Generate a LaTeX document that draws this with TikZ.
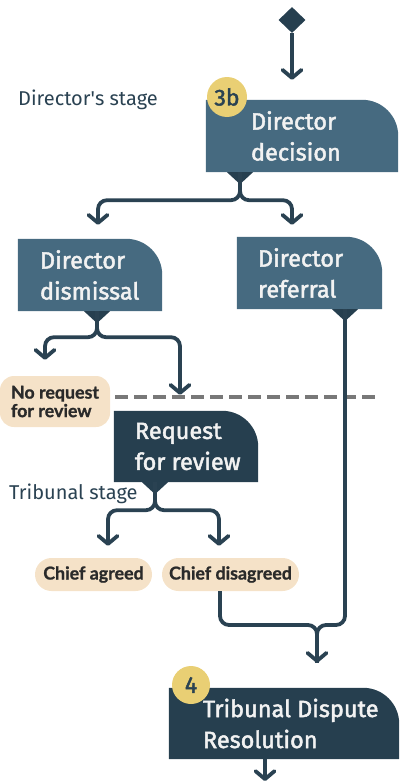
\documentclass[tikz,border=0pt]{standalone}
\usepackage{fontspec}
\setmainfont{Fira Sans}
\newfontfamily\boxfont[FakeBold=2]{Fira Sans}
\newfontfamily\pillfont[BoldFeatures={FakeBold=1}]{Lato}
\usetikzlibrary{arrows.meta,shapes.geometric}
\definecolor{boxmid}{HTML}{466A80}
\definecolor{boxdark}{HTML}{263F4F}
\definecolor{linec}{HTML}{2A4252}
\definecolor{peach}{HTML}{F5E2C8}
\definecolor{badgey}{HTML}{E9CF74}
\definecolor{dashg}{HTML}{787878}
\definecolor{pilltxt}{HTML}{2A2A2A}
\definecolor{boxtxtc}{HTML}{F2F2F2}
\newcommand{\tabfill}[2]{\fill[#2] (#1.south west) -- (#1.north west) -- ([xshift=-36pt]#1.north east) arc[start angle=90,end angle=0,radius=36pt] -- (#1.south east) -- cycle;}
\newcommand{\tritip}[1]{\fill[boxdark] ([xshift=-13pt]#1) -- ([xshift=13pt]#1) -- ([yshift=-12pt]#1) -- cycle;}
\tikzset{
  x=1pt, y=1pt,
  tabbox/.style={rectangle, inner sep=0pt, draw=none},
  boxtxt/.style={anchor=west, inner sep=0pt, align=left, text=boxtxtc, font=\boxfont\fontsize{23.5}{31}\selectfont},
  pill/.style={rectangle, fill=peach, inner sep=0pt, text=pilltxt, font=\pillfont\bfseries\fontsize{17.8}{18.5}\selectfont, align=left},
  badge/.style={circle, fill=badgey, inner sep=0pt, minimum size=40pt, text=linec, font=\boxfont\fontsize{23}{24}\selectfont},
  stage/.style={anchor=west, inner sep=0pt, text=linec, font=\fontsize{20}{22}\selectfont},
  conn/.style={draw=linec, line width=3.8pt, rounded corners=9pt},
  arr/.style={-{Straight Barb[length=8pt,width=19pt,round]}},
}
\begin{document}
\begin{tikzpicture}
\useasboundingbox (0,0) rectangle (400,-784);

% nodes (boxes)
\node[diamond, fill=boxdark, minimum width=27pt, minimum height=26pt, inner sep=0pt] (start) at (292,-20) {};
\node[tabbox, minimum width=192pt, minimum height=72pt] (dd) at (302,-136) {};
\node[tabbox, minimum width=144pt, minimum height=72pt] (dism) at (90,-275) {};
\node[tabbox, minimum width=145pt, minimum height=72pt] (ref) at (309.5,-273) {};
\node[tabbox, minimum width=144pt, minimum height=71pt] (req) at (186,-446.5) {};
\node[tabbox, minimum width=230pt, minimum height=71pt] (tdr) at (284,-723.5) {};

% dashed separator
\coordinate (dl) at (115,-397);
\coordinate (dr) at (380,-397);
\draw[dashg, line width=4pt, dash pattern=on 13pt off 6pt] (dl) -- (dr);

\tabfill{dd}{boxmid}
\tabfill{dism}{boxmid}
\tabfill{ref}{boxmid}
\tabfill{req}{boxdark}
\tabfill{tdr}{boxdark}

\node[boxtxt] (ddt) at ([xshift=45pt]dd.west) {Director\\decision};
\node[boxtxt] (dismt) at ([xshift=22pt]dism.west) {Director\\dismissal};
\node[boxtxt] (reft) at ([xshift=21pt]ref.west) {Director\\referral};
\node[boxtxt] (reqt) at ([xshift=21pt]req.west) {Request\\for review};
\node[boxtxt] (tdrt) at ([xshift=34pt]tdr.west) {Tribunal Dispute\\Resolution};

\node[badge] (b3) at (227,-97) {3b};
\node[badge, minimum size=38pt] (b4) at (191,-685) {4};

\node[pill, rounded corners=14pt, minimum width=110pt, minimum height=51pt] (nr) at (55,-401.5) {No request\\for review};
\node[pill, rounded corners=16.5pt, minimum width=117pt, minimum height=33pt] (ca) at (93.5,-574.5) {Chief agreed};
\node[pill, rounded corners=16.5pt, minimum width=137pt, minimum height=33pt] (cd) at (230.5,-574.5) {Chief disagreed};

\node[stage] (ds) at (18,-100) {Director\textquotesingle s stage};
\node[stage] (ts) at (9,-494) {Tribunal stage};

% triangles under boxes
\coordinate (t1) at ([xshift=-62pt]dd.south);
\coordinate (t2) at ([xshift=7pt]dism.south);
\coordinate (t3) at ([xshift=35.5pt]ref.south);
\coordinate (t4) at ([xshift=-31pt]req.south);
\tritip{t1}
\tritip{t2}
\tritip{t3}
\tritip{t4}

% connectors
\draw[conn,arr] (start.south) -- ([yshift=20pt]dd.north -| start.south);
\draw[conn,arr] (t1) -- ++(0,-28) -| ([xshift=8pt,yshift=14pt]dism.north);
\draw[conn,arr] (t1) -- ++(0,-28) -| ([xshift=-17.5pt,yshift=12pt]ref.north);
\draw[conn,arr] (t2) -- ++(0,-26) -| ([xshift=-10pt,yshift=16pt]nr.north);
\draw[conn,arr] (t2) -- ++(0,-26) -| ([xshift=-6pt,yshift=16pt]req.north);
\draw[conn,arr] (t4) -- ++(0,-28) -| ([xshift=14.5pt,yshift=12pt]ca.north);
\draw[conn,arr] (t4) -- ++(0,-28) -| ([xshift=-11.5pt,yshift=12pt]cd.north);

\coordinate (m) at (317,-625);
\coordinate (mend) at ([xshift=33pt,yshift=25pt]tdr.north);
\draw[conn] (t3) |- (m) -- (mend);
\draw[conn,arr] ([xshift=-10.5pt]cd.south) |- (m) -- (mend);

\coordinate (bend) at (265,-781);
\draw[conn,arr] ([xshift=-19pt]tdr.south) -- (bend);
\end{tikzpicture}
\end{document}
